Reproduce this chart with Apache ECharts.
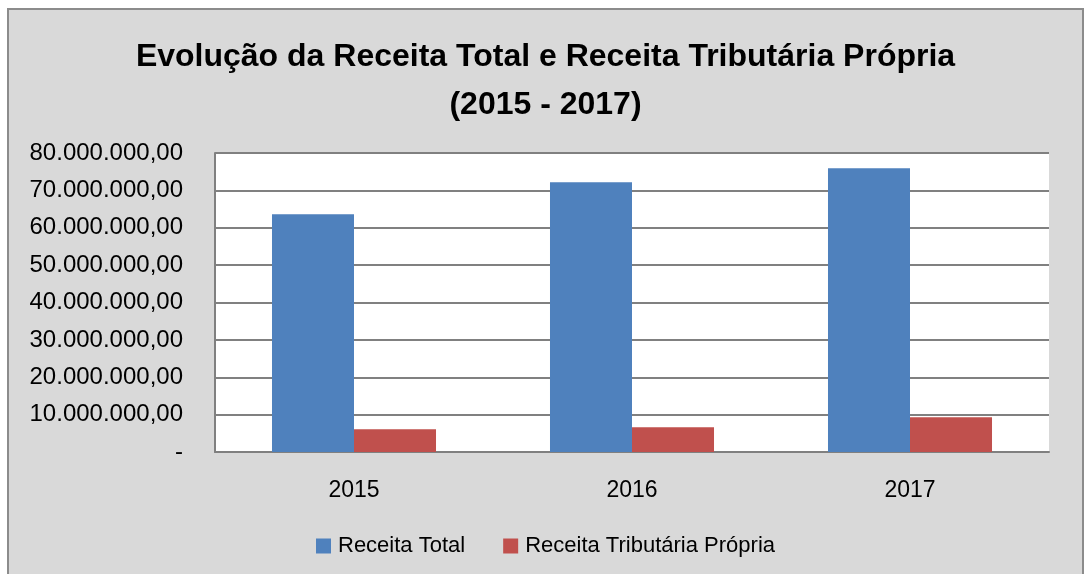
<!DOCTYPE html>
<html>
<head>
<meta charset="utf-8">
<script src="https://cdn.jsdelivr.net/npm/echarts@6/dist/echarts.min.js"></script>
<style>
  html, body { margin: 0; padding: 0; background: #ffffff; }
  #main { width: 1091px; height: 574px; }
</style>
</head>
<body>
<div id="main"></div>
<script>
// dados
var anos = ['2015', '2016', '2017'];
var receitaTotal = [63600000, 72200000, 75900000];
var receitaTributaria = [6100000, 6600000, 9300000];
var nomesSeries = ['Receita Total', 'Receita Tributária Própria'];

// formato brasileiro: 80.000.000,00 e "-" para zero
function formatarValor(v) {
  if (v === 0) return '-';
  var partes = v.toFixed(2).split('.');
  var inteiro = partes[0].replace(/\B(?=(\d{3})+(?!\d))/g, '.');
  return inteiro + ',' + partes[1];
}

var myChart = echarts.init(document.getElementById('main'));

var option = {
  backgroundColor: '#ffffff',
  animation: false,
  textStyle: { fontFamily: 'Liberation Sans' },
  graphic: [{
    type: 'rect',
    z: -10,
    shape: { x: 8, y: 9, width: 1075, height: 580 },
    style: { fill: '#d9d9d9', stroke: '#8c8c8c', lineWidth: 2 }
  }],
  title: {
    text: 'Evolução da Receita Total e Receita Tributária Própria\n(2015 - 2017)',
    left: 'center',
    top: 28,
    textStyle: {
      fontSize: 32,
      fontWeight: 'bold',
      color: '#000000',
      lineHeight: 48,
      fontFamily: 'Liberation Sans'
    }
  },
  legend: {
    data: nomesSeries,
    bottom: 12,
    left: 'center',
    icon: 'rect',
    itemWidth: 15,
    itemHeight: 15,
    itemGap: 38,
    itemStyle: { borderWidth: 0 },
    textStyle: { fontSize: 22, color: '#000000', padding: [0, 0, 0, 2] }
  },
  grid: {
    left: 215,
    right: 42,
    top: 153,
    bottom: 122,
    show: true,
    backgroundColor: '#ffffff',
    borderWidth: 0
  },
  xAxis: {
    type: 'category',
    data: anos,
    axisTick: { show: false },
    axisLine: { lineStyle: { color: '#808080', width: 2 } },
    axisLabel: { fontSize: 23, color: '#000000', margin: 27 }
  },
  yAxis: {
    type: 'value',
    min: 0,
    max: 80000000,
    interval: 10000000,
    axisLine: { show: true, lineStyle: { color: '#808080', width: 2 } },
    axisTick: { show: false },
    splitLine: { lineStyle: { color: '#808080', width: 2 } },
    axisLabel: {
      fontSize: 24,
      color: '#000000',
      margin: 32,
      formatter: formatarValor
    }
  },
  series: [
    {
      name: nomesSeries[0],
      type: 'bar',
      data: receitaTotal,
      barWidth: '29.5%',
      barGap: '0%',
      itemStyle: { color: '#4f81bd' }
    },
    {
      name: nomesSeries[1],
      type: 'bar',
      data: receitaTributaria,
      barWidth: '29.5%',
      itemStyle: { color: '#c0504d' }
    }
  ]
};

myChart.setOption(option);
</script>
</body>
</html>
